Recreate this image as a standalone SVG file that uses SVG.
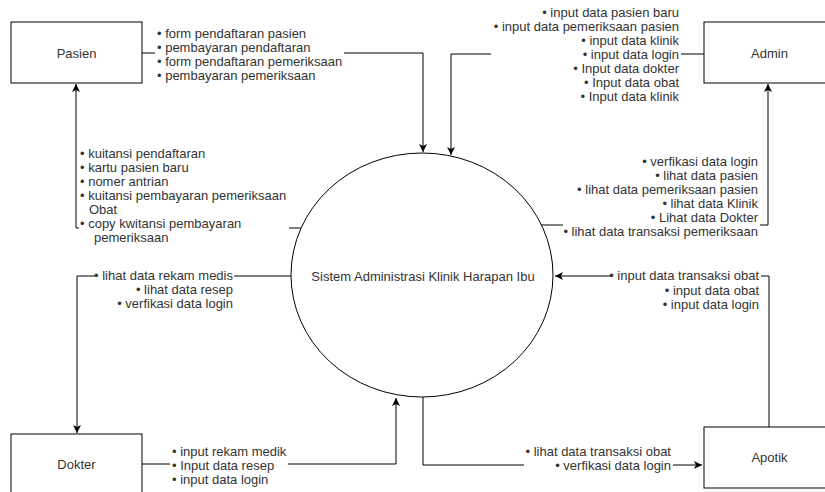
<svg xmlns="http://www.w3.org/2000/svg" width="825" height="492" viewBox="0 0 825 492">
<style>
.box{fill:#fff;stroke:#000;stroke-width:1}
.ln{fill:none;stroke:#000;stroke-width:1}
.bg{fill:#fff;stroke:none}
text{font-family:"Liberation Sans",Arial,sans-serif;font-size:13px;fill:#333}
.c{text-anchor:middle}
.e{text-anchor:end}
</style>
<defs>
<marker id="arr" viewBox="0 0 10 10" refX="10" refY="5" markerWidth="8" markerHeight="8" markerUnits="userSpaceOnUse" orient="auto">
<path d="M0,0 L10,5 L0,10 L2.5,5 Z" fill="#000"/>
</marker>
</defs>
<rect width="825" height="492" fill="#fff"/>

<g id="pasien"><rect class="box" x="11" y="22" width="131" height="61"/><text class="c" x="76.5" y="57.5">Pasien</text></g>
<g id="admin"><rect class="box" x="704" y="22" width="131" height="61"/><text class="c" x="769.5" y="57.5">Admin</text></g>
<g id="dokter"><rect class="box" x="11" y="434" width="131" height="61"/><text class="c" x="76.5" y="469">Dokter</text></g>
<g id="apotik"><rect class="box" x="704" y="427" width="131" height="61"/><text class="c" x="769.5" y="462">Apotik</text></g>
<g id="sistem"><ellipse class="box" cx="422" cy="275" rx="131" ry="122"/><text class="c" x="423" y="281">Sistem Administrasi Klinik Harapan Ibu</text></g>

<g id="connectors">
<path class="ln" d="M142,53 H423 V152" marker-end="url(#arr)"/>
<path class="ln" d="M704,54 H451 V155" marker-end="url(#arr)"/>
<path class="ln" d="M301,228 H76 V84" marker-end="url(#arr)"/>
<path class="ln" d="M291,276 H77 V433" marker-end="url(#arr)"/>
<path class="ln" d="M541,225 H768 V84" marker-end="url(#arr)"/>
<path class="ln" d="M769,427 V276 H555" marker-end="url(#arr)"/>
<path class="ln" d="M423,397 V465 H702" marker-end="url(#arr)"/>
<path class="ln" d="M142,464 H396 V398" marker-end="url(#arr)"/>

<rect class="bg" x="155" y="24" width="189" height="60"/>
<text x="157" y="37.5">• form pendaftaran pasien</text>
<text x="157" y="51.8">• pembayaran pendaftaran</text>
<text x="157" y="66">• form pendaftaran pemeriksaan</text>
<text x="157" y="80.3">• pembayaran pemeriksaan</text>

<rect class="bg" x="491" y="4" width="190" height="100"/>
<text class="e" x="679" y="17">• input data pasien baru</text>
<text class="e" x="679" y="31">• input data pemeriksaan pasien</text>
<text class="e" x="679" y="45">• input data klinik</text>
<text class="e" x="679" y="59">• input data login</text>
<text class="e" x="679" y="73">• Input data dokter</text>
<text class="e" x="679" y="87">• Input data obat</text>
<text class="e" x="679" y="101">• Input data klinik</text>

<rect class="bg" x="79" y="145" width="210" height="101"/>
<text x="80" y="158">• kuitansi pendaftaran</text>
<text x="80" y="172">• kartu pasien baru</text>
<text x="80" y="186">• nomer antrian</text>
<text x="80" y="200">• kuitansi pembayaran pemeriksaan</text>
<text x="89" y="214">Obat</text>
<text x="80" y="228">• copy kwitansi pembayaran</text>
<text x="94" y="242">pemeriksaan</text>

<rect class="bg" x="95" y="266" width="139" height="46"/>
<text class="e" x="233" y="280">• lihat data rekam medis</text>
<text class="e" x="233" y="294">• lihat data resep</text>
<text class="e" x="233" y="308">• verfikasi data login</text>

<rect class="bg" x="563" y="152" width="197" height="88"/>
<text class="e" x="758" y="166">• verfikasi data login</text>
<text class="e" x="758" y="180">• lihat data pasien</text>
<text class="e" x="758" y="194">• lihat data pemeriksaan pasien</text>
<text class="e" x="758" y="208">• lihat data Klinik</text>
<text class="e" x="758" y="222">• Lihat data Dokter</text>
<text class="e" x="758" y="236">• lihat data transaksi pemeriksaan</text>

<rect class="bg" x="612" y="266" width="149" height="47"/>
<text class="e" x="759" y="280">• input data transaksi obat</text>
<text class="e" x="759" y="294.5">• input data obat</text>
<text class="e" x="759" y="309">• input data login</text>

<rect class="bg" x="524" y="442" width="149" height="32"/>
<text class="e" x="671" y="456">• lihat data transaksi obat</text>
<text class="e" x="671" y="470">• verfikasi data login</text>

<rect class="bg" x="170" y="443" width="118" height="45"/>
<text x="172" y="456">• input rekam medik</text>
<text x="172" y="470">• Input data resep</text>
<text x="172" y="484">• input data login</text>
</g>
</svg>
